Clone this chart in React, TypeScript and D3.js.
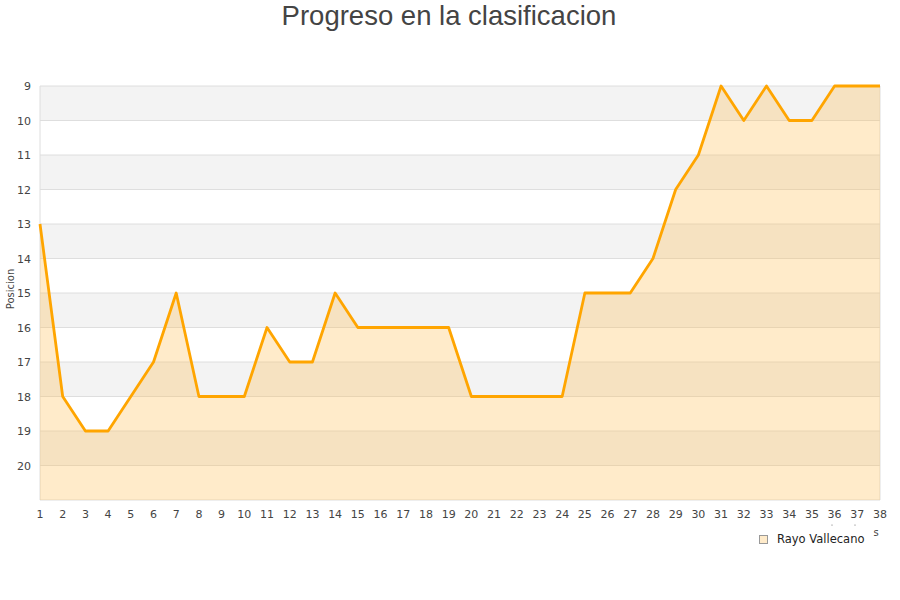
import React from "react";
import * as d3 from "d3";

const title = "Progreso en la clasificacion";
const yAxisTitle = "Posicion";
const seriesName = "Rayo Vallecano";
const jornadas = d3.range(1, 39);
const posiciones = [13, 18, 19, 19, 18, 17, 15, 18, 18, 18, 16, 17, 17, 15, 16, 16, 16, 16, 16, 18, 18, 18, 18, 18, 15, 15, 15, 14, 12, 11, 9, 10, 9, 10, 10, 9, 9, 9];
const yTicks = d3.range(9, 21);

const W = 900;
const H = 600;
const left = 40;
const right = 880;
const top = 86;
const bottom = 500;

export default function App() {
  const x = d3.scaleLinear().domain([1, 38]).range([left, right]);
  const y = d3.scaleLinear().domain([9, 21]).range([top, bottom]);
  const data = jornadas.map((j, i) => ({ j, p: posiciones[i] }));

  const line = d3.line<{ j: number; p: number }>().x((d) => x(d.j)).y((d) => y(d.p));
  const area = d3
    .area<{ j: number; p: number }>()
    .x((d) => x(d.j))
    .y0(y(21))
    .y1((d) => y(d.p));

  const bands = d3.range(9, 21, 2);

  return (
    <svg width={W} height={H} style={{ position: "absolute", left: 0, top: 0 }} fontFamily="'DejaVu Sans', sans-serif">
      <rect width={W} height={H} fill="#fff" />
      <text x={449} y={25} textAnchor="middle" fontSize={27.5} fill="#444" fontFamily="'Liberation Sans', Arial, sans-serif">
        {title}
      </text>
      {bands.map((b) => (
        <rect key={b} x={left} y={y(b)} width={right - left} height={y(b + 1) - y(b)} fill="#f3f3f3" />
      ))}
      {d3.range(9, 22).map((t) => (
        <line key={t} x1={left} x2={right} y1={y(t)} y2={y(t)} stroke="#dedede" strokeWidth={1} />
      ))}
      <line x1={left} x2={left} y1={top} y2={bottom} stroke="#dedede" />
      <line x1={right} x2={right} y1={top} y2={bottom} stroke="#dedede" />
      <path d={area(data) ?? ""} fill="rgba(255,190,80,0.3)" />
      <path d={line(data) ?? ""} fill="none" stroke="#ffa500" strokeWidth={2.8} strokeLinejoin="round" />
      {yTicks.map((t) => (
        <text key={t} x={31} y={y(t) + 4} textAnchor="end" fontSize={11} fill="#444">
          {t}
        </text>
      ))}
      {jornadas.map((j) => (
        <text key={j} x={x(j)} y={518} textAnchor="middle" fontSize={11} fill="#444">
          {j}
        </text>
      ))}
      <text transform={`translate(14,${(top + bottom) / 2 - 4}) rotate(-90)`} textAnchor="middle" fontSize={10} fill="#444">
        {yAxisTitle}
      </text>
      <circle cx={832} cy={525} r={0.6} fill="#666" />
      <circle cx={855} cy={525} r={0.6} fill="#666" />
      <text x={876} y={536} textAnchor="middle" fontSize={10} fill="#444">s</text>
      <rect x={759.5} y={535.5} width={8} height={8} fill="rgba(255,190,80,0.3)" stroke="#999" strokeWidth={1} />
      <text x={777} y={543} fontSize={11.5} fill="#222">
        {seriesName}
      </text>
    </svg>
  );
}
